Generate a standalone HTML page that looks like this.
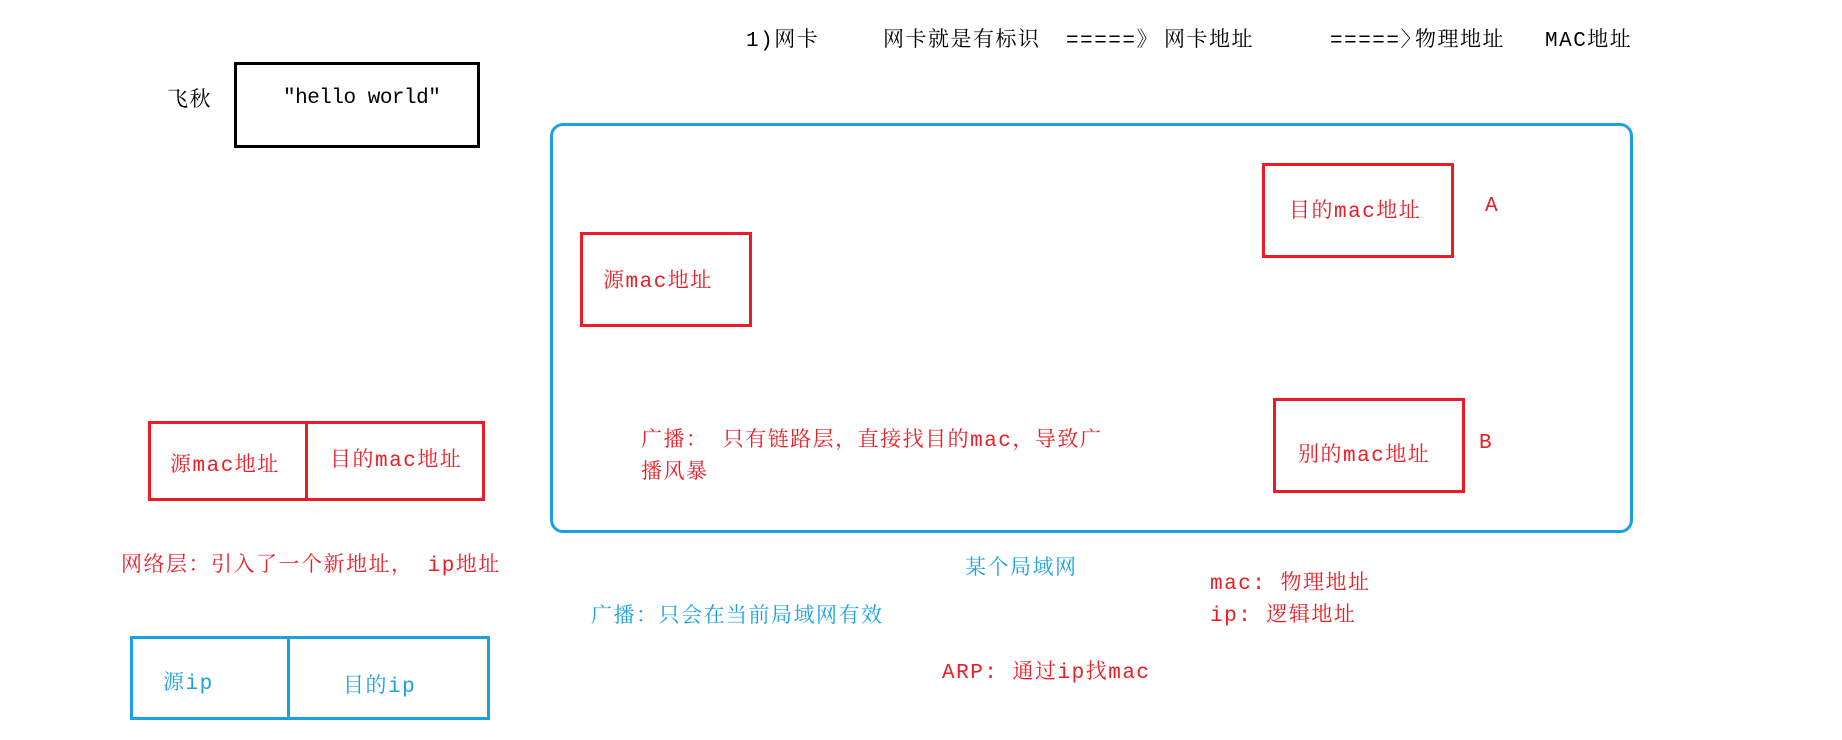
<!DOCTYPE html>
<html><head><meta charset="utf-8"><style>
body{margin:0;width:1842px;height:740px;background:#fff;position:relative;overflow:hidden;font-family:"Liberation Mono","Noto Serif CJK SC",serif;}
.t{position:absolute;font-size:21px;line-height:24px;letter-spacing:1.5px;white-space:nowrap;}
.k{color:#000}.r{color:#ed1c24}.b{color:#1ba1e2}
.box{position:absolute;box-sizing:border-box;}
</style></head><body>
<div class="t k" style="left:746px;top:30px">1)网卡</div>
<div class="t k" style="left:883px;top:30px">网卡就是有标识</div>
<div class="t k" style="left:1066px;top:30px">=====》</div>
<div class="t k" style="left:1164px;top:30px">网卡地址</div>
<div class="t k" style="left:1330px;top:30px">=====〉</div>
<div class="t k" style="left:1415px;top:30px">物理地址</div>
<div class="t k" style="left:1545px;top:30px">MAC地址</div>

<div class="t k" style="left:167px;top:90px">飞秋</div>
<div class="box" style="left:234px;top:62px;width:246px;height:86px;border:3px solid #000"></div>
<div class="t k" style="left:283px;top:87px;letter-spacing:-0.5px;font-size:21px">″hello world″</div>

<div class="box" style="left:550px;top:123px;width:1083px;height:410px;border:3px solid #1ba1e2;border-radius:13px"></div>

<div class="box" style="left:580px;top:232px;width:172px;height:95px;border:3px solid #ed1c24"></div>
<div class="t r" style="left:603px;top:271px">源mac地址</div>
<div class="box" style="left:1262px;top:163px;width:192px;height:95px;border:3px solid #ed1c24"></div>
<div class="t r" style="left:1289px;top:201px">目的mac地址</div>
<div class="t r" style="left:1485px;top:195px">A</div>
<div class="box" style="left:1273px;top:398px;width:192px;height:95px;border:3px solid #ed1c24"></div>
<div class="t r" style="left:1298px;top:445px">别的mac地址</div>
<div class="t r" style="left:1479px;top:432px">B</div>

<div class="t r" style="left:641px;top:430px">广播：  只有链路层，直接找目的mac，导致广</div>
<div class="t r" style="left:641px;top:462px">播风暴</div>

<div class="box" style="left:148px;top:421px;width:337px;height:80px;border:3px solid #ed1c24"></div>
<div class="box" style="left:305px;top:421px;width:3px;height:80px;background:#ed1c24"></div>
<div class="t r" style="left:170px;top:455px">源mac地址</div>
<div class="t r" style="left:330px;top:450px">目的mac地址</div>

<div class="t r" style="left:121px;top:555px">网络层：引入了一个新地址， ip地址</div>

<div class="box" style="left:130px;top:636px;width:360px;height:84px;border:3px solid #1ba1e2"></div>
<div class="box" style="left:287px;top:636px;width:3px;height:84px;background:#1ba1e2"></div>
<div class="t b" style="left:163px;top:673px">源ip</div>
<div class="t b" style="left:343px;top:676px">目的ip</div>

<div class="t b" style="left:591px;top:606px">广播：只会在当前局域网有效</div>
<div class="t b" style="left:965px;top:558px">某个局域网</div>
<div class="t r" style="left:1210px;top:573px">mac: 物理地址</div>
<div class="t r" style="left:1210px;top:605px">ip: 逻辑地址</div>
<div class="t r" style="left:942px;top:662px">ARP: 通过ip找mac</div>
</body></html>
